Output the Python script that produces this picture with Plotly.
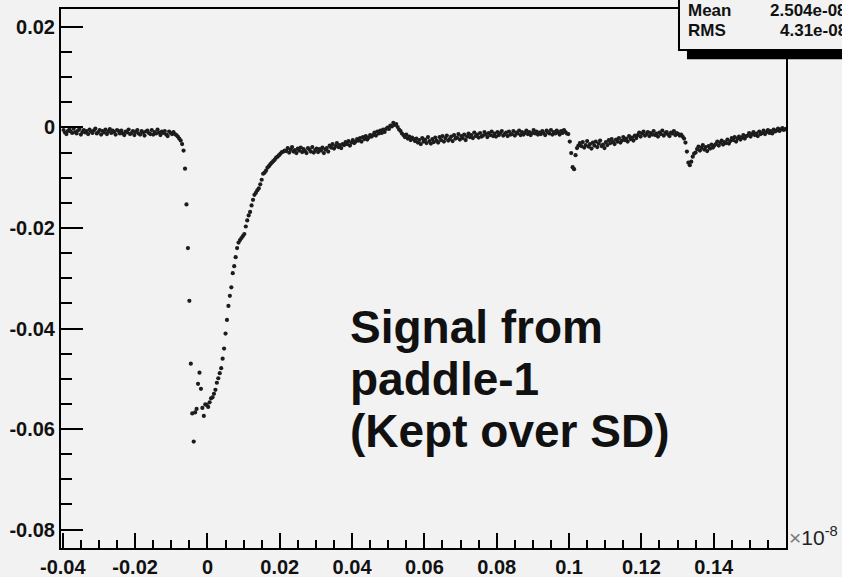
import plotly.graph_objects as go

# ---------------- data ----------------
# sampling grid of the waveform (units of 1e-8 s)
T_START = -0.0398
T_STEP = 0.0004

# signal amplitude per sample
SIGNAL = [
    # baseline before the pulse
    -0.0005, -0.0010, -0.0013, -0.0007, -0.0004, -0.0008, -0.0011, -0.0002, -0.0009, -0.0012,
    -0.0006, -0.0003, -0.0014, -0.0009, -0.0005, -0.0010, -0.0007, -0.0013, -0.0004, -0.0008,
    -0.0011, -0.0006, -0.0002, -0.0012, -0.0009, -0.0005, -0.0014, -0.0007, -0.0010, -0.0004,
    -0.0013, -0.0008, -0.0003, -0.0011, -0.0006, -0.0009, -0.0014, -0.0005, -0.0007, -0.0012,
    -0.0006, -0.0012, -0.0015, -0.0008, -0.0010, -0.0004, -0.0013, -0.0011, -0.0007, -0.0015,
    -0.0009, -0.0005, -0.0012, -0.0014, -0.0007, -0.0010, -0.0016, -0.0008, -0.0006, -0.0011,
    -0.0013, -0.0005, -0.0014, -0.0009, -0.0012, -0.0004, -0.0010, -0.0015, -0.0008, -0.0011,
    -0.0007, -0.0014, -0.0017, -0.0008, -0.0011, -0.0013, -0.0009, -0.0013, -0.0015,
    # leading edge
    -0.0018, -0.0022, -0.0026, -0.0033, -0.0046, -0.0082, -0.0153, -0.0240, -0.0345, -0.0470,
    # minimum and trailing edge
    -0.0569, -0.0625, -0.0567, -0.0560, -0.0510, -0.0488, -0.0520, -0.0558, -0.0574, -0.0551,
    -0.0552, -0.0556, -0.0547, -0.0539, -0.0537, -0.0530, -0.0522, -0.0508, -0.0499, -0.0489,
    -0.0479, -0.0460, -0.0440, -0.0410, -0.0383, -0.0355, -0.0335, -0.0318, -0.0290, -0.0276,
    -0.0258, -0.0240, -0.0229, -0.0224, -0.0220, -0.0216, -0.0212, -0.0197, -0.0185, -0.0175,
    -0.0168, -0.0155, -0.0144, -0.0134, -0.0130, -0.0125, -0.0121, -0.0113, -0.0104, -0.0092,
    -0.0090, -0.0086, -0.0080, -0.0077, -0.0073, -0.0070, -0.0067, -0.0064, -0.0060, -0.0058,
    -0.0055, -0.0052, -0.0049, -0.0048, -0.0046,
    # slow tail and bump near 0.05
    -0.0047, -0.0041, -0.0050, -0.0044, -0.0039, -0.0048, -0.0045, -0.0051, -0.0042, -0.0046,
    -0.0040, -0.0049, -0.0043, -0.0047, -0.0051, -0.0041, -0.0044, -0.0048, -0.0039, -0.0050,
    -0.0045, -0.0042, -0.0049, -0.0043, -0.0046, -0.0040, -0.0051, -0.0044, -0.0041, -0.0048,
    -0.0036, -0.0040, -0.0033, -0.0042, -0.0037, -0.0031, -0.0039, -0.0035, -0.0041, -0.0033,
    -0.0035, -0.0029, -0.0033, -0.0027, -0.0036, -0.0030, -0.0025, -0.0031, -0.0028, -0.0023,
    -0.0026, -0.0021, -0.0028, -0.0019, -0.0023, -0.0017, -0.0024, -0.0020, -0.0015, -0.0018,
    -0.0015, -0.0010, -0.0016, -0.0008, -0.0012, -0.0006, -0.0011, -0.0004, -0.0009, -0.0003,
    0.0000, -0.0003, 0.0004, 0.0002, 0.0009, 0.0005, 0.0007, 0.0001, -0.0004, -0.0007,
    -0.0012, -0.0015, -0.0019, -0.0014, -0.0022, -0.0018, -0.0025, -0.0020, -0.0023, -0.0027,
    -0.0022, -0.0030, -0.0025, -0.0033, -0.0021, -0.0028, -0.0024, -0.0031, -0.0019, -0.0027,
    -0.0032, -0.0023, -0.0029, -0.0020, -0.0026, -0.0030,
    # baseline 0.06 - 0.10
    -0.0019, -0.0025, -0.0017, -0.0028, -0.0021, -0.0016, -0.0026, -0.0023, -0.0018, -0.0027,
    -0.0015, -0.0022, -0.0020, -0.0013, -0.0024, -0.0017, -0.0021, -0.0014, -0.0025, -0.0018,
    -0.0012, -0.0019, -0.0015, -0.0021, -0.0010, -0.0017, -0.0014, -0.0020, -0.0011, -0.0018,
    -0.0016, -0.0009, -0.0013, -0.0019, -0.0011, -0.0015, -0.0008, -0.0017, -0.0012, -0.0018,
    -0.0009, -0.0015, -0.0011, -0.0007, -0.0016, -0.0013, -0.0010, -0.0017, -0.0008, -0.0014,
    -0.0013, -0.0007, -0.0016, -0.0010, -0.0012, -0.0006, -0.0015, -0.0009, -0.0014, -0.0011,
    -0.0006, -0.0013, -0.0009, -0.0015, -0.0011, -0.0005, -0.0012, -0.0008, -0.0014, -0.0010,
    -0.0013, -0.0007, -0.0011, -0.0015, -0.0006, -0.0010, -0.0012, -0.0005, -0.0014, -0.0009,
    -0.0012, -0.0006, -0.0010, -0.0014, -0.0007, -0.0011, -0.0005, -0.0009, -0.0012,
    # reflection near 0.10
    -0.0013, -0.0028, -0.0051, -0.0079, -0.0083, -0.0055, -0.0041, -0.0036,
    -0.0031, -0.0037, -0.0029, -0.0040, -0.0035, -0.0027, -0.0038, -0.0033, -0.0042, -0.0030,
    -0.0036, -0.0028, -0.0039, -0.0032, -0.0026, -0.0037, -0.0034, -0.0041, -0.0029, -0.0035,
    -0.0025, -0.0031, -0.0023, -0.0029, -0.0033, -0.0024, -0.0028, -0.0021, -0.0030, -0.0026,
    -0.0019, -0.0025, -0.0022, -0.0028, -0.0017, -0.0023, -0.0020, -0.0026, -0.0016, -0.0021,
    -0.0015, -0.0010, -0.0018, -0.0012, -0.0008, -0.0016, -0.0013, -0.0009, -0.0017, -0.0011,
    -0.0014, -0.0007, -0.0015, -0.0012, -0.0018, -0.0010, -0.0013, -0.0006, -0.0016, -0.0011,
    -0.0009, -0.0014, -0.0017, -0.0010, -0.0012, -0.0007, -0.0015, -0.0011, -0.0013, -0.0016, -0.0014,
    # reflection near 0.133
    -0.0018, -0.0022, -0.0030, -0.0048, -0.0070, -0.0075, -0.0068, -0.0058, -0.0052, -0.0050,
    -0.0043, -0.0038, -0.0046, -0.0040, -0.0035, -0.0044, -0.0039, -0.0047, -0.0037, -0.0042,
    -0.0034, -0.0040, -0.0036,
    -0.0033, -0.0028, -0.0036, -0.0030, -0.0026, -0.0034, -0.0029, -0.0031, -0.0024, -0.0032,
    -0.0027, -0.0021, -0.0025, -0.0019, -0.0028, -0.0022, -0.0018, -0.0024, -0.0020, -0.0015,
    -0.0022, -0.0017,
    -0.0016, -0.0011, -0.0018, -0.0013, -0.0009, -0.0015, -0.0012, -0.0017, -0.0008, -0.0013,
    -0.0011, -0.0006, -0.0013, -0.0009, -0.0005, -0.0011, -0.0007, -0.0012, -0.0004, -0.0008,
    -0.0006, -0.0002, -0.0007, -0.0004, -0.0001, -0.0005, -0.0003,
]
TIME = [T_START + T_STEP * k for k in range(len(SIGNAL))]

X_TICKS = [-0.04, -0.02, 0, 0.02, 0.04, 0.06, 0.08, 0.10, 0.12, 0.14]
X_TICK_LABELS = ["-0.04", "-0.02", "0", "0.02", "0.04", "0.06", "0.08", "0.1", "0.12", "0.14"]
Y_TICKS = [0.02, 0, -0.02, -0.04, -0.06, -0.08]
Y_TICK_LABELS = ["0.02", "0", "-0.02", "-0.04", "-0.06", "-0.08"]

STATS_NAMES = ["Mean", "RMS"]
STATS_VALUES = ["2.504e-08", "4.31e-08"]
NOTE_LINES = ["Signal from", "paddle-1", "(Kept over SD)"]

# ---------------- figure ----------------
BG = "#f2f2f2"
FONT = "Liberation Sans, Arial, Helvetica, sans-serif"

fig = go.Figure()
fig.add_trace(go.Scatter(
    x=TIME, y=SIGNAL, mode="markers",
    marker=dict(symbol="circle", size=4.2, color="#1c1c1c", line=dict(width=0)),
    showlegend=False, hoverinfo="skip",
))

axis_common = dict(
    showline=True, linewidth=2, linecolor="black", mirror=True,
    showgrid=False, zeroline=False, ticks="inside", tickwidth=2, tickcolor="black",
    tickmode="array", automargin=False,
    tickfont=dict(family=FONT, size=20, color="#111", weight="bold"),
)

fig.update_layout(
    width=842, height=577,
    margin=dict(l=61, r=56, t=9, b=29),
    paper_bgcolor=BG, plot_bgcolor=BG,
    xaxis=dict(
        range=[-0.0405, 0.160], tickvals=X_TICKS, ticktext=X_TICK_LABELS, ticklen=15,
        minor=dict(tickmode="linear", tick0=0, dtick=0.005, ticks="inside",
                   ticklen=8, tickwidth=2, tickcolor="black"),
        **axis_common,
    ),
    yaxis=dict(
        range=[-0.08368, 0.02358], tickvals=Y_TICKS, ticktext=Y_TICK_LABELS, ticklen=22,
        minor=dict(tickmode="linear", tick0=0, dtick=0.005, ticks="inside",
                   ticklen=11, tickwidth=2, tickcolor="black"),
        **axis_common,
    ),
)

# exponent label of the x axis
fig.add_annotation(
    xref="paper", yref="paper", x=1.002, y=0.022, xanchor="left", yanchor="middle",
    text="<span style='color:#777'>×</span>10<sup>-8</sup>", showarrow=False,
    font=dict(family=FONT, size=21, color="#222"),
)

# big text
for line, yv in zip(NOTE_LINES, [0.410, 0.3135, 0.217]):
    fig.add_annotation(
        xref="paper", yref="paper", x=0.396, y=yv, xanchor="left", yanchor="middle",
        text=line, showarrow=False,
        font=dict(family=FONT, size=46, color="#111", weight="bold"),
    )

# stats box (ROOT style, partially off-canvas as in the original)
fig.add_shape(type="rect", xref="paper", yref="paper", x0=0.8634, x1=1.3, y0=0.907, y1=0.93,
              fillcolor="black", line=dict(width=0), layer="above")
fig.add_shape(type="rect", xref="paper", yref="paper", x0=0.8524, x1=1.3, y0=0.924, y1=1.2,
              fillcolor=BG, line=dict(color="black", width=2), layer="above")
for name, val, yv, xv in zip(STATS_NAMES, STATS_VALUES, [0.998, 0.961], [0.9752, 0.989]):
    fig.add_annotation(xref="paper", yref="paper", x=0.862, y=yv, xanchor="left", yanchor="middle",
                       text=name, showarrow=False,
                       font=dict(family=FONT, size=17, color="#111", weight="bold"))
    fig.add_annotation(xref="paper", yref="paper", x=xv, y=yv, xanchor="left", yanchor="middle",
                       text=val, showarrow=False,
                       font=dict(family=FONT, size=17, color="#111", weight="bold"))

fig.write_html("out.html")
